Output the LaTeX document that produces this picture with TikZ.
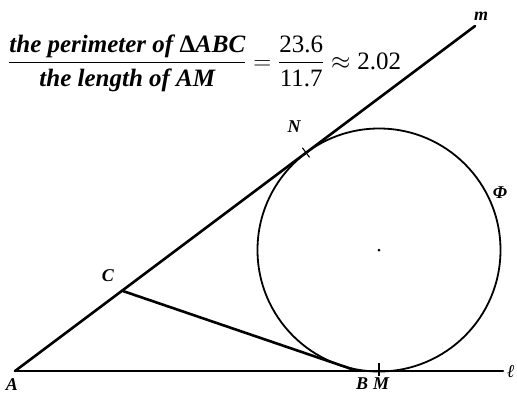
\documentclass[tikz,border=0pt]{standalone}
\usepackage{amsmath}
\usepackage{fontspec}
\setmainfont{Liberation Serif}
\usetikzlibrary{positioning, calc}

\begin{document}
\begin{tikzpicture}[
    x=1pt, y=-1pt,
    seg/.style={line width=2.6pt, line cap=round},
    circ/.style={line width=1.8pt},
    tickmark/.style={line width=1.1pt},
    lbl/.style={font=\fontsize{18}{20}\selectfont\bfseries\itshape, inner sep=0pt}
]
    \useasboundingbox (0,0) rectangle (517,394);

    % Points of the figure
    \coordinate (A) at (15,371);
    \coordinate (O) at (379,250);
    \coordinate (M) at (379,371);
    \coordinate (N) at (306,152.6);
    \coordinate (C) at (122,290.7);
    \coordinate (B) at (357.4,371);
    \coordinate (mend) at (475,26);
    \coordinate (lend) at (503,371);

    % Circle Phi and its centre
    \draw[circ] (O) circle (121.5);
    \fill (O) circle (1.5);

    % Lines m and l, side CB
    \draw[seg] (A) -- (mend);
    \draw[seg] (A) -- (lend);
    \draw[seg] (C) -- (B);

    % Ticks at the points of contact
    \draw[tickmark] ($(N)!6pt!90:(mend)$) -- ($(N)!6pt!-90:(mend)$);
    \draw[tickmark] ($(M)+(0,-8)$) -- ($(M)+(0,5)$);

    % Labels
    \node[lbl] (lA) at (12,385) {A};
    \node[lbl] (lB) at (362,384) {B};
    \node[lbl] (lM) at (381,384) {M};
    \node[lbl] (lC) at (108,276) {C};
    \node[lbl] (lN) at (294,127) {N};
    \node[lbl] (lm) at (481,16) {m};
    \node[lbl] (lphi) at (500,193) {Φ};
    \node[lbl] (ll) at (511,372) {ℓ};

    % Ratio
    \node[anchor=west, inner sep=0pt, font=\fontsize{25}{29}\selectfont] (ratio) at (8,63)
        {$\dfrac{\text{\bfseries\itshape the perimeter of {\upshape Δ}ABC}}{\text{\bfseries\itshape the length of AM}}
        = \dfrac{\text{23.6}}{\text{11.7}} \approx \text{2.02}$};
\end{tikzpicture}
\end{document}
